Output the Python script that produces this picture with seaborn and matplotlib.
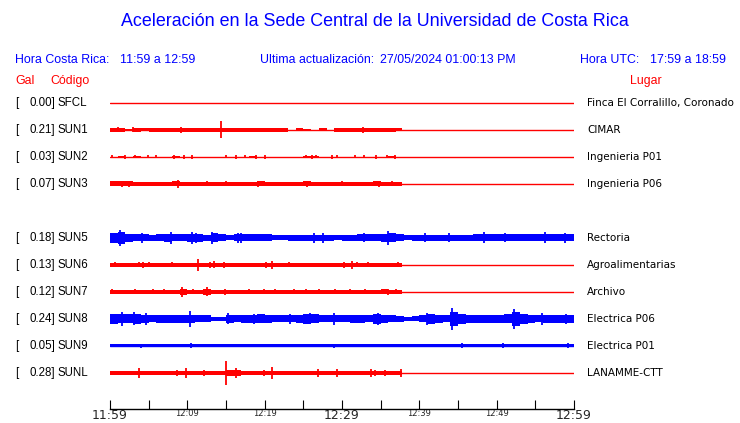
import numpy as np
import pandas as pd
import seaborn as sns
import matplotlib
matplotlib.use('Agg')
import matplotlib.pyplot as plt
from matplotlib.ticker import FixedLocator, FixedFormatter

W, H = 740, 423

codes = ['SFCL', 'SUN1', 'SUN2', 'SUN3', 'SUN5', 'SUN6', 'SUN7', 'SUN8', 'SUN9', 'SUNL']
gal = ['0.00', '0.21', '0.03', '0.07', '0.18', '0.13', '0.12', '0.24', '0.05', '0.28']
places = ['Finca El Corralillo, Coronado', 'CIMAR', 'Ingenieria P01', 'Ingenieria P06',
          'Rectoria', 'Agroalimentarias', 'Archivo', 'Electrica P06', 'Electrica P01',
          'LANAMME-CTT']
colors = ['red', 'red', 'red', 'red', 'blue', 'red', 'red', 'blue', 'blue', 'red']
# minutes after 11:59 where each record stops (flat line afterwards)
rec_end = [0, 37.7, 37.7, 37.7, 60, 37.7, 37.7, 60, 60, 37.7]

# half amplitude of the trace, one value per minute (screen px)
sfcl_env = []
sun1_env = [2, 2, 1, 2, 1.5, 2, 2, 2, 2, 2, 2, 2, 2, 2, 2, 2, 2, 2, 2, 2,
            2, 2, 2, 0, 1.5, 1, 0, 1.5, 0, 2, 2, 2, 2, 2, 2, 2, 2, 1.5]
sun2_env = [0, 1, 0, 1, 0, 0, 0, 0, 1, 0, 0, 0, 0, 0, 0, 0, 0, 0, 1, 0,
            0, 0, 0, 0, 0, 1, 1, 0, 0, 0, 0, 0, 0, 0, 0, 0, 1, 0]
sun3_env = [2.5, 2.5, 2.5, 2, 2, 2, 2, 2, 2.5, 2, 2, 2, 2, 2, 2, 2, 2, 2, 2, 2.5,
            2, 2, 2, 2, 2, 2.5, 2, 2, 2, 2, 2, 2, 2, 2, 2.5, 2, 2, 2]
sun5_env = [5, 6, 4, 3.5, 3.5, 3, 3.5, 4, 3.5, 3.5, 4, 4, 3, 4.5, 3.5, 2.5, 3.5, 3.5, 3.5, 3.5,
            3.5, 2.5, 2.5, 3, 3, 3, 3, 3, 3, 2.5, 3, 3, 3.5, 3.5, 3.5, 4, 4.5, 3.5, 2.5, 3,
            3, 3, 3, 3, 3, 3, 3, 3.5, 3.5, 3.5, 3.5, 3.5, 3.5, 3.5, 3.5, 3.5, 3.5, 3.5, 3.5, 3.5]
sun6_env = [2, 2, 2, 2, 2, 2, 2, 2, 2, 2, 2, 2, 2, 2, 2, 2, 2, 2, 2, 2,
            2, 2, 2, 2, 2, 2, 2, 2, 2, 2, 2, 2, 2, 2, 2, 2, 2, 2]
sun7_env = [1.7, 1.7, 1.7, 1.7, 1.7, 1.7, 1.7, 1.7, 1.7, 3, 1.7, 1.7, 3, 1.7, 1.7, 1.7, 1.7, 1.7, 1.7, 1.7,
            1.7, 1.7, 1.7, 1.7, 1.7, 1.7, 1.7, 1.7, 1.7, 1.7, 1.7, 1.7, 1.7, 1.7, 1.7, 2.5, 1.7, 1.7]
sun8_env = [5, 4.5, 4.5, 5, 4, 3.5, 4, 4, 4, 4, 4, 3.5, 3.5, 2, 2, 4, 3.5, 4, 4, 4.5,
            4, 3.5, 3.5, 3.5, 4, 5, 4.5, 3.5, 3.5, 3.5, 3.5, 4, 4, 3.5, 5, 4, 3.5, 3, 2, 2.5,
            3.5, 5, 4, 3.5, 7, 5, 4, 4, 4, 4, 4, 4.5, 7, 5, 4, 3.5, 4, 4, 4, 4]
sun9_env = [1.5, 1.5, 1.5, 1.5, 1.5, 1.5, 1.5, 1.5, 1.5, 1.5, 1.5, 1.5, 1.5, 1.5, 1.5, 1.5, 1.5, 1.5, 1.5, 1.5,
            1.5, 1.5, 1.5, 1.5, 1.5, 1.5, 1.5, 1.5, 1.5, 1.5, 1.5, 1.5, 1.5, 1.5, 1.5, 1.5, 1.5, 1.5, 1.5, 1.5,
            1.5, 1.5, 1.5, 1.5, 1.5, 1.5, 1.5, 1.5, 1.5, 1.5, 1.5, 1.5, 1.5, 1.5, 1.5, 1.5, 1.5, 1.5, 1.5, 1.5]
sunl_env = [2, 2, 2, 2, 2, 2, 2, 2, 2, 2, 2, 2, 2, 2, 2, 3, 3, 2, 2, 2,
            2, 2, 2, 2, 2, 2, 2, 2, 2, 2, 2, 2, 2, 2, 2, 2, 2, 2]

# isolated peaks: (minute, half amplitude)
sfcl_spk = []
sun1_spk = [(1.0, 2.5), (3.0, 2.5), (9.2, 3), (14.4, 8.5), (32.7, 3)]
sun2_spk = [(0.2, 1.5), (1.9, 2), (3.2, 1.5), (4.9, 1.5), (6.0, 1.5), (8.3, 2), (9.6, 2), (10.6, 2),
            (15.0, 1.5), (16.3, 2), (17.5, 1.5), (18.9, 2), (20.0, 2), (25.3, 1.5), (26.1, 2),
            (26.7, 1.5), (28.7, 2), (29.3, 1.5), (31.7, 1.5), (32.8, 1.5), (34.4, 2), (35.8, 1.5),
            (36.9, 2)]
sun3_spk = [(1.5, 3), (2.5, 3), (8.75, 4), (12.5, 2.5), (15.0, 2.5), (19.2, 3), (25.5, 3),
            (30.0, 2.5), (34.8, 3), (36.5, 2.5)]
sun5_spk = [(1.3, 8), (4.2, 5), (7.9, 6), (10.6, 6), (11.1, 5), (13.2, 6), (16.5, 5), (17.0, 5),
            (26.4, 5), (27.5, 5), (32.8, 4.5), (36.0, 7), (40.7, 4.5), (43.8, 4.5), (48.3, 5.5),
            (51.1, 4.5), (56.2, 5.5), (58.8, 5)]
sun6_spk = [(0.65, 2.5), (3.8, 2.5), (4.3, 3), (5.1, 2.5), (7.97, 2.5), (11.4, 6), (12.9, 3),
            (13.5, 3.5), (14.8, 3), (20.2, 3), (20.9, 4), (23.2, 2.5), (30.3, 3), (31.3, 4),
            (32.0, 2.5), (33.3, 2.5), (37.2, 2.5)]
sun7_spk = [(0.3, 2.5), (3.2, 2.5), (5.6, 2.5), (7.0, 2.5), (9.3, 5), (10.7, 2.5), (12.6, 4.5),
            (14.9, 3), (18.0, 2.5), (19.9, 2.5), (21.4, 2.5), (23.8, 2.5), (25.3, 2.5), (27.0, 2.5),
            (29.1, 2.5), (31.0, 2.5), (33.0, 2.5), (35.9, 3), (37.0, 2.5)]
sun8_spk = [(1.5, 7), (3.15, 6.5), (4.7, 6), (10.3, 8), (15.3, 5.5), (18.6, 5), (23.3, 5),
            (25.9, 5.5), (29.0, 6), (34.7, 6), (41.0, 6), (44.2, 11), (52.3, 10), (55.8, 6),
            (59.0, 5)]
sun9_spk = [(4.0, 2), (10.5, 2.5), (29.0, 2), (45.5, 2.5), (50.8, 2.5), (59.2, 2.5)]
sunl_spk = [(3.8, 5), (8.6, 3), (9.8, 5), (12.2, 3), (15.0, 12), (16.3, 5), (19.95, 3),
            (20.9, 6), (26.9, 4), (29.3, 4), (33.8, 4), (34.3, 3), (35.6, 3), (37.6, 4)]

envs = [sfcl_env, sun1_env, sun2_env, sun3_env, sun5_env, sun6_env, sun7_env, sun8_env, sun9_env, sunl_env]
spks = [sfcl_spk, sun1_spk, sun2_spk, sun3_spk, sun5_spk, sun6_spk, sun7_spk, sun8_spk, sun9_spk, sunl_spk]

major_ticks = [0, 30, 60]
major_labels = ['11:59', '12:29', '12:59']
minor_ticks = [5, 10, 15, 20, 25, 35, 40, 45, 50, 55]
minor_labels = ['', '12:09', '', '12:19', '', '', '12:39', '', '12:49', '']

BLUE = '#0000ff'
RED = '#ff0000'
pal = {'red': RED, 'blue': BLUE}

sns.set_theme(style='white')
plt.rcParams['font.family'] = ['DejaVu Sans']

fig = plt.figure(figsize=(W / 100, H / 100), dpi=100)
ax = fig.add_axes([110 / W, 0, 464 / W, 1])
ax.set_xlim(0, 60)
ax.set_ylim(H, 0)

# row layout: slot 4 stays empty
slots = [0, 1, 2, 3, 5, 6, 7, 8, 9, 10]
levels = [103 + 27 * s for s in slots]

base = pd.DataFrame({
    't': [0, 60] * len(codes),
    'y': [lv for lv in levels for _ in range(2)],
    'code': [c for c in codes for _ in range(2)],
})
sns.lineplot(data=base, x='t', y='y', hue='code', units='code', estimator=None,
             palette={c: pal[col] for c, col in zip(codes, colors)},
             legend=False, lw=1.0, ax=ax)

for env, spk, lv, col, end in zip(envs, spks, levels, colors, rec_end):
    c = pal[col]
    if env:
        a = np.array(env + [env[-1]], dtype=float)
        edges = np.array(list(range(len(env))) + [end], dtype=float)
        ax.fill_between(edges, lv - a, lv + a, step='post', color=c, lw=0)
    for t, amp in spk:
        ax.vlines(t, lv - amp, lv + amp, color=c, lw=1.3)

for s in ['top', 'left', 'right']:
    ax.spines[s].set_visible(False)
ax.spines['bottom'].set_position(('data', 409))
ax.spines['bottom'].set_color('black')
ax.spines['bottom'].set_linewidth(1.0)
ax.set_yticks([])
ax.set_xlabel('')
ax.set_ylabel('')
ax.xaxis.set_major_locator(FixedLocator(major_ticks))
ax.xaxis.set_major_formatter(FixedFormatter(major_labels))
ax.xaxis.set_minor_locator(FixedLocator(minor_ticks))
ax.xaxis.set_minor_formatter(FixedFormatter(minor_labels))
ax.tick_params(axis='x', which='both', direction='in', length=6.5, width=0.8,
               color='black', pad=0, bottom=True)
ax.tick_params(axis='x', which='major', labelsize=9)
ax.tick_params(axis='x', which='minor', labelsize=6)
ax.patch.set_alpha(0)


def put(x, y, s, **kw):
    kw.setdefault('va', 'center')
    fig.text(x / W, 1 - y / H, s, **kw)


hel = ['Liberation Sans', 'DejaVu Sans']
put(375, 22, 'Aceleración en la Sede Central de la Universidad de Costa Rica',
    ha='center', color=BLUE, fontsize=12.9, family=hel)
put(15, 60, 'Hora Costa Rica:', color=BLUE, fontsize=8.9, family=hel)
put(120, 60, '11:59 a 12:59', color=BLUE, fontsize=8.9, family=hel)
put(260, 60, 'Ultima actualización:', color=BLUE, fontsize=8.9, family=hel)
put(380, 60, '27/05/2024 01:00:13 PM', color=BLUE, fontsize=8.9, family=hel)
put(580, 60, 'Hora UTC:', color=BLUE, fontsize=8.9, family=hel)
put(650, 60, '17:59 a 18:59', color=BLUE, fontsize=8.9, family=hel)
put(15, 81, 'Gal', color=RED, fontsize=8.9, family=hel)
put(50, 81, 'Código', color=RED, fontsize=8.9, family=hel)
put(630, 81, 'Lugar', color=RED, fontsize=8.9, family=hel)

for code, g, place, lv in zip(codes, gal, places, levels):
    put(15, lv, '[', color='black', fontsize=8.3, family=hel)
    put(55.5, lv, g + ']', ha='right', color='black', fontsize=8.3, family=hel)
    put(58, lv, code, color='black', fontsize=8.3, family=hel)
    put(587, lv, place, color='black', fontsize=7.5, family=['DejaVu Sans'])

fig.savefig('out.png', dpi=100)
